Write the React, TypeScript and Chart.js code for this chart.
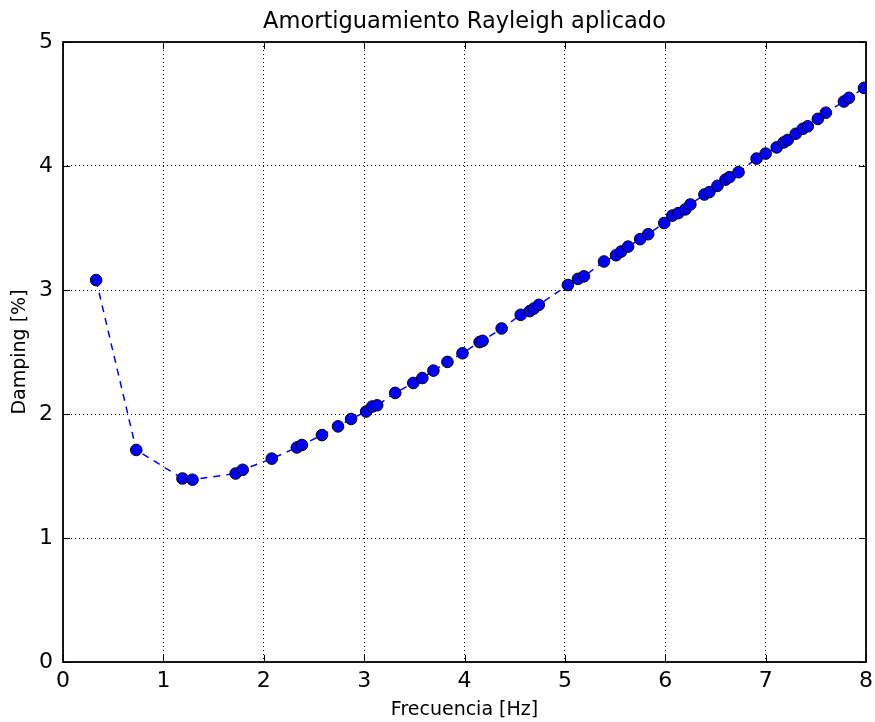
import React, { useEffect, useRef } from "react";
import { Chart, registerables } from "chart.js";

Chart.register(...registerables);

const frequencies = [
  0.33, 0.73, 1.19, 1.29, 1.72, 1.79, 2.08, 2.33, 2.38, 2.58, 2.74, 2.87, 3.02, 3.08, 3.13,
  3.31, 3.49, 3.58, 3.69, 3.83, 3.98, 4.15, 4.18, 4.37, 4.56, 4.65, 4.69, 4.74, 5.03, 5.13,
  5.19, 5.39, 5.51, 5.56, 5.63, 5.75, 5.83, 5.99, 6.07, 6.13, 6.2, 6.25, 6.39, 6.44, 6.52,
  6.6, 6.64, 6.73, 6.91, 7.0, 7.11, 7.18, 7.22, 7.3, 7.37, 7.42, 7.52, 7.6, 7.78, 7.83, 7.98,
];
const damping = [
  3.08, 1.71, 1.48, 1.47, 1.52, 1.55, 1.64, 1.73, 1.75, 1.83, 1.9, 1.96, 2.02, 2.06, 2.07,
  2.17, 2.25, 2.29, 2.35, 2.42, 2.49, 2.58, 2.59, 2.69, 2.8, 2.83, 2.85, 2.88, 3.04, 3.09,
  3.11, 3.23, 3.28, 3.31, 3.35, 3.41, 3.45, 3.54, 3.6, 3.62, 3.65, 3.69, 3.77, 3.79, 3.84,
  3.89, 3.91, 3.95, 4.06, 4.1, 4.15, 4.19, 4.21, 4.26, 4.3, 4.32, 4.38, 4.43, 4.52, 4.55, 4.63,
];
const xTicks = [0, 1, 2, 3, 4, 5, 6, 7, 8];
const yTicks = [0, 1, 2, 3, 4, 5];

const titleText = "Amortiguamiento Rayleigh aplicado";
const xLabel = "Frecuencia [Hz]";
const yLabel = "Damping [%]";

const FONT = "DejaVu Sans";

const frameAndTicks = {
  id: "frameAndTicks",
  afterDraw(chart: any) {
    const { ctx, chartArea, scales } = chart;
    const { left, right, top, bottom } = chartArea;
    ctx.save();
    ctx.strokeStyle = "#000";
    ctx.lineWidth = 1;
    ctx.setLineDash([]);
    const len = 7;
    xTicks.forEach((v) => {
      const px = Math.round(scales.x.getPixelForValue(v)) + 0.5;
      ctx.beginPath();
      ctx.moveTo(px, bottom);
      ctx.lineTo(px, bottom - len);
      ctx.moveTo(px, top);
      ctx.lineTo(px, top + len);
      ctx.stroke();
    });
    yTicks.forEach((v) => {
      const py = Math.round(scales.y.getPixelForValue(v)) + 0.5;
      ctx.beginPath();
      ctx.moveTo(left, py);
      ctx.lineTo(left + len, py);
      ctx.moveTo(right, py);
      ctx.lineTo(right - len, py);
      ctx.stroke();
    });
    ctx.lineWidth = 1.8;
    ctx.strokeRect(left, top, right - left, bottom - top);
    ctx.restore();
  },
};

export default function App() {
  const ref = useRef<HTMLCanvasElement>(null);
  useEffect(() => {
    if (!ref.current) return;
    const chart = new Chart(ref.current, {
      type: "line",
      data: {
        datasets: [
          {
            data: frequencies.map((f, i) => ({ x: f, y: damping[i] })),
            borderColor: "#0000ff",
            borderWidth: 1.5,
            borderDash: [7, 6],
            pointBackgroundColor: "#0000ff",
            pointBorderColor: "#000000",
            pointBorderWidth: 1,
            pointRadius: 5.8,
            fill: false,
            tension: 0,
          },
        ],
      },
      options: {
        animation: false,
        responsive: false,
        layout: { padding: { left: 0, right: 9, top: 0, bottom: 0 } },
        plugins: {
          legend: { display: false },
          tooltip: { enabled: false },
          title: {
            display: true,
            fullSize: false,
            text: titleText,
            color: "#000",
            font: { family: FONT, size: 22.5, weight: "normal" },
            padding: { top: 9, bottom: 6 },
          },
        },
        scales: {
          x: {
            type: "linear",
            min: 0,
            max: 8,
            afterBuildTicks: (s: any) => {
              s.ticks = xTicks.map((v) => ({ value: v }));
            },
            afterFit: (s: any) => {
              s.height = 60;
              s.paddingLeft = 0;
              s.paddingRight = 0;
            },
            ticks: {
              color: "#000",
              font: { family: FONT, size: 22 },
              padding: 6,
              maxRotation: 0,
            },
            grid: {
              color: "#000",
              lineWidth: 1,
              drawTicks: false,
            },
            border: { display: false, dash: [1, 3] },
            title: {
              display: true,
              text: xLabel,
              color: "#000",
              font: { family: FONT, size: 19 },
              padding: { top: 0, bottom: 1 },
            },
          },
          y: {
            type: "linear",
            min: 0,
            max: 5,
            afterBuildTicks: (s: any) => {
              s.ticks = yTicks.map((v) => ({ value: v }));
            },
            afterFit: (s: any) => {
              s.width = 63;
              s.paddingTop = 0;
              s.paddingBottom = 0;
            },
            ticks: {
              color: "#000",
              font: { family: FONT, size: 22 },
              padding: 10,
            },
            grid: {
              color: "#000",
              lineWidth: 1,
              drawTicks: false,
            },
            border: { display: false, dash: [1, 3] },
            title: {
              display: true,
              text: yLabel,
              color: "#000",
              font: { family: FONT, size: 19 },
              padding: { top: 9, bottom: 0 },
            },
          },
        },
      },
      plugins: [frameAndTicks],
    } as any);
    return () => chart.destroy();
  }, []);
  return (
    <div style={{ position: "absolute", left: 0, top: 0, width: 875, height: 722, background: "#fff" }}>
      <canvas ref={ref} width={875} height={722} style={{ width: 875, height: 722 }} />
    </div>
  );
}
